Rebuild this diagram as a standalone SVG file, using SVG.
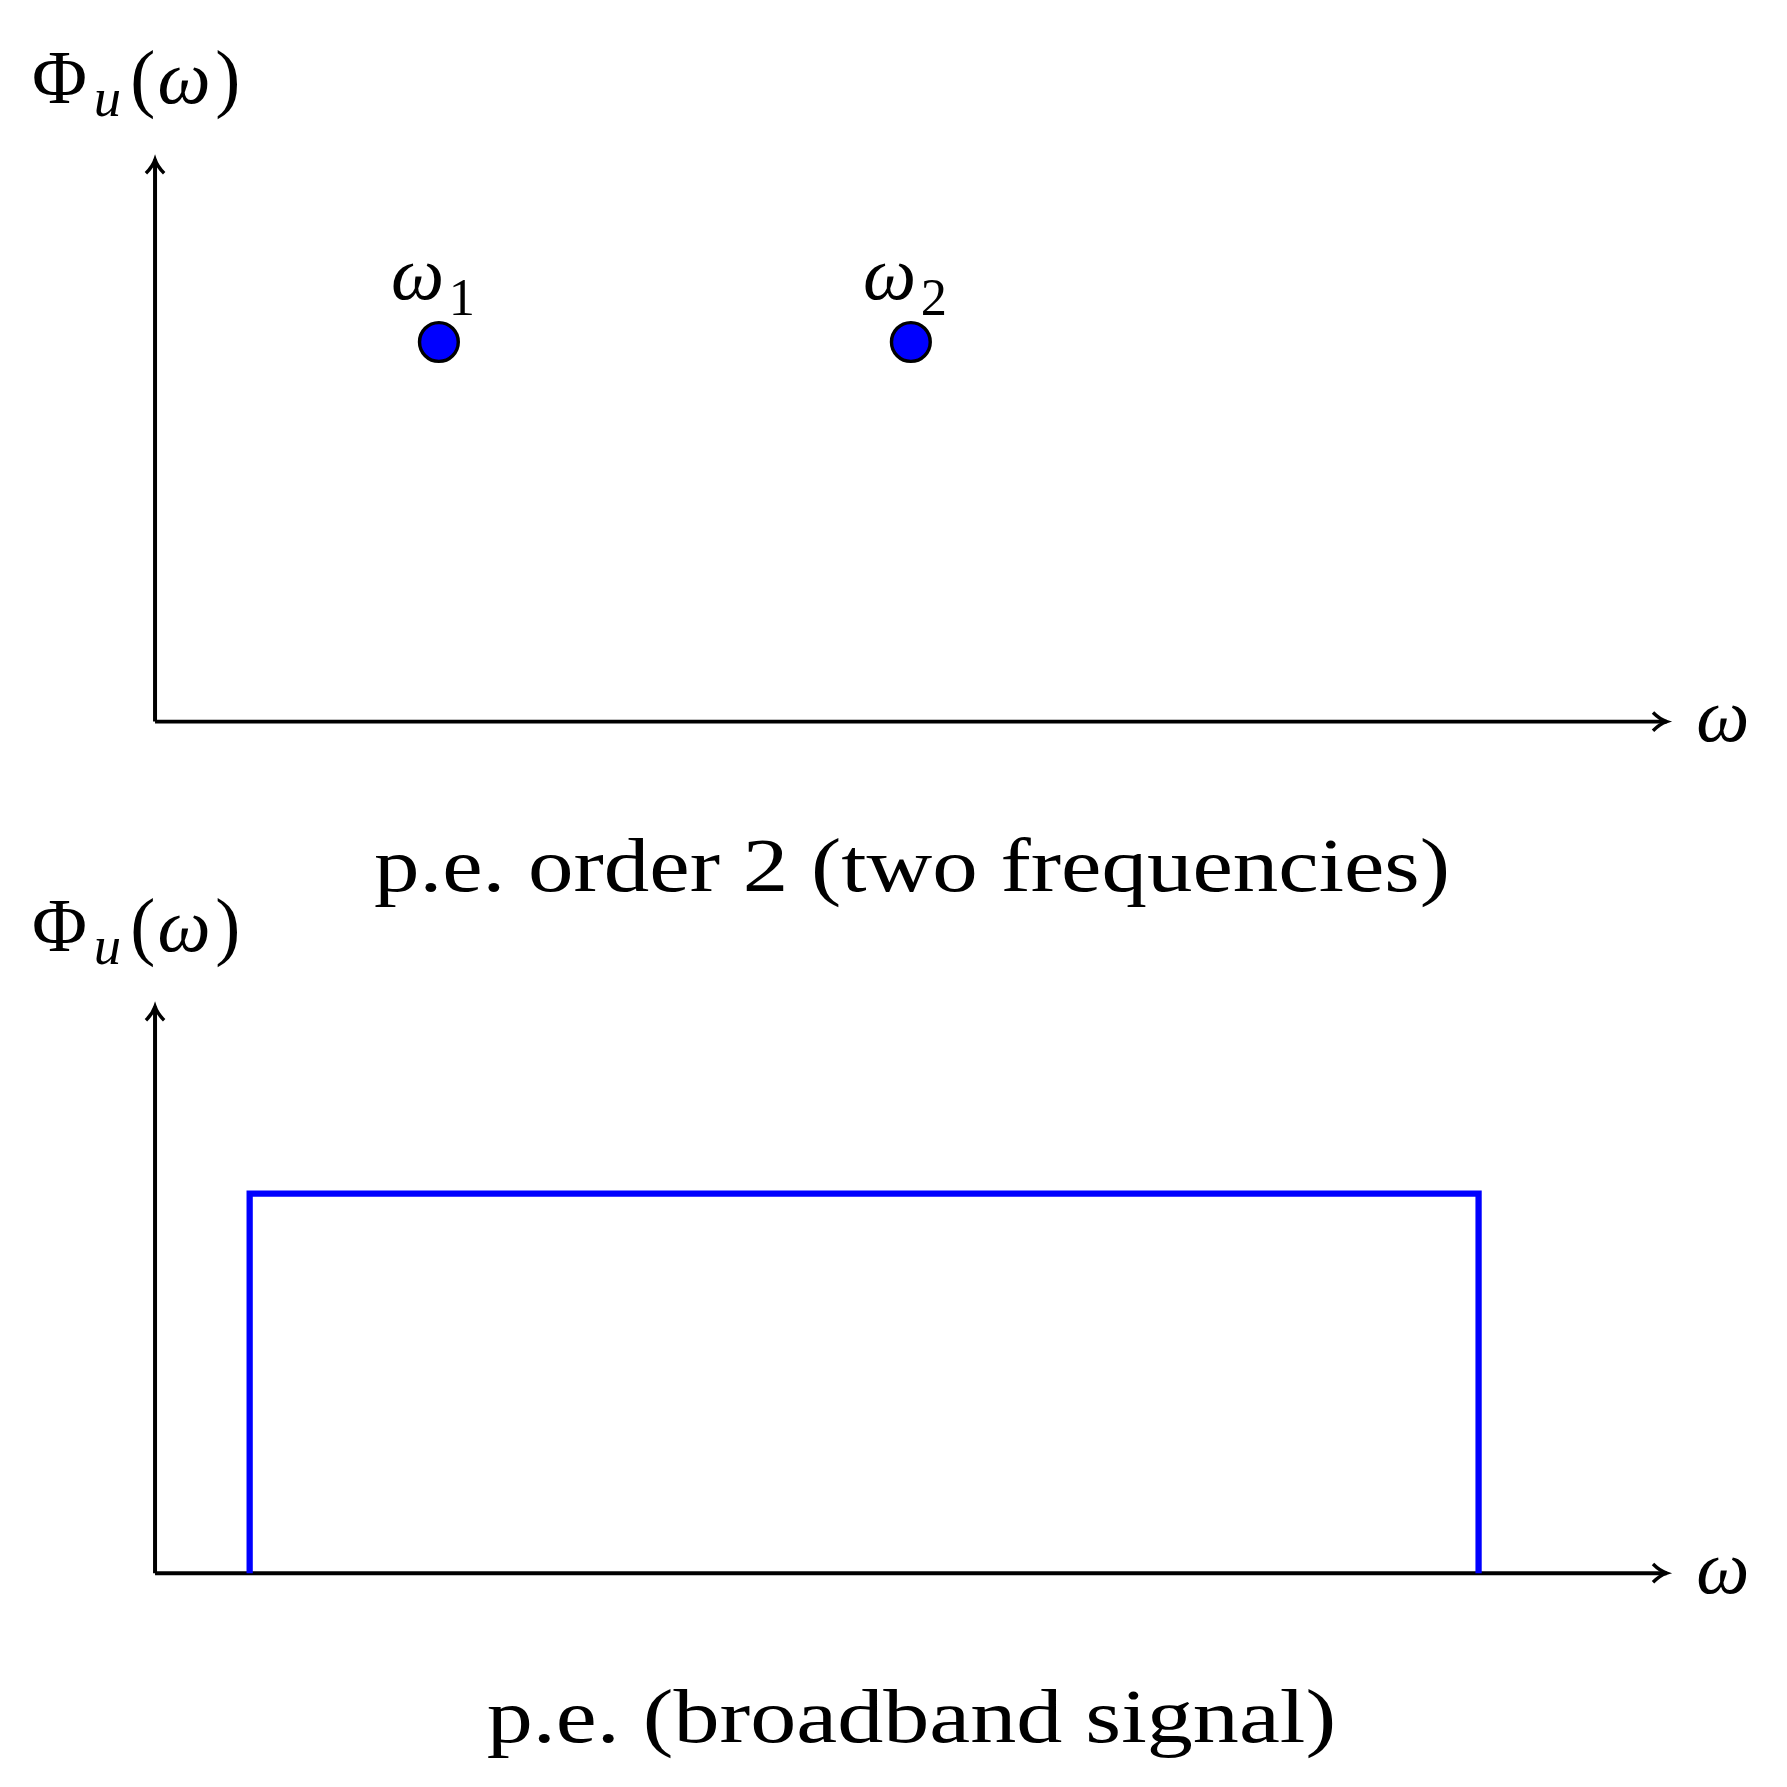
<svg xmlns="http://www.w3.org/2000/svg" width="1787" height="1787" viewBox="0 0 1787 1787">
<style>
.ax{stroke:#000;stroke-width:3.5;fill:none}
.t{font-family:"Liberation Serif",serif;fill:#000;font-style:normal}
.m{font-family:"Liberation Serif",serif;font-style:italic;fill:#000}
</style>
<defs><marker id="ar" markerWidth="20" markerHeight="20" refX="14" refY="10" orient="auto" markerUnits="userSpaceOnUse"><path d="M2,2 Q8,8 14,10 Q8,12 2,18" fill="none" stroke="#000" stroke-width="3"/></marker></defs>
<rect width="1787" height="1787" fill="#fff"/>
<g transform="scale(1.14)">
<g id="connectors">
<line class="ax" x1="136" y1="633" x2="136" y2="140" marker-end="url(#ar)"/>
<line class="ax" x1="136" y1="633" x2="1462" y2="633" marker-end="url(#ar)"/>
<line class="ax" x1="136" y1="1380" x2="136" y2="883" marker-end="url(#ar)"/>
<line class="ax" x1="136" y1="1380" x2="1462" y2="1380" marker-end="url(#ar)"/>
</g>
<g id="top">
<text class="t" x="28" y="90" font-size="66">Φ<tspan class="m" font-size="48" dy="12" dx="6">u</tspan><tspan dy="-12" dx="8">(</tspan><tspan class="m" dx="2">ω</tspan><tspan dx="4">)</tspan></text>
<text class="m" x="1488" y="650" font-size="66">ω</text>
<text class="m" x="343" y="262" font-size="66">ω<tspan class="t" font-size="46" dy="14" dx="4">1</tspan></text>
<text class="m" x="757" y="262" font-size="66">ω<tspan class="t" font-size="46" dy="14" dx="4">2</tspan></text>
<circle cx="385" cy="300" r="17" fill="#0000ff" stroke="#000" stroke-width="3"/>
<circle cx="799" cy="300" r="17" fill="#0000ff" stroke="#000" stroke-width="3"/>
<text class="t" x="328" y="782" font-size="66" textLength="944" lengthAdjust="spacingAndGlyphs">p.e. order 2 (two frequencies)</text>
</g>
<g id="bottom">
<text class="t" x="28" y="834" font-size="66">Φ<tspan class="m" font-size="48" dy="12" dx="6">u</tspan><tspan dy="-12" dx="8">(</tspan><tspan class="m" dx="2">ω</tspan><tspan dx="4">)</tspan></text>
<text class="m" x="1488" y="1397" font-size="66">ω</text>
<polyline points="219,1380 219,1047 1297,1047 1297,1380" fill="none" stroke="#0000ff" stroke-width="5.5"/>
<text class="t" x="427" y="1528" font-size="66" textLength="745" lengthAdjust="spacingAndGlyphs">p.e. (broadband signal)</text>
</g>
</g>
</svg>
